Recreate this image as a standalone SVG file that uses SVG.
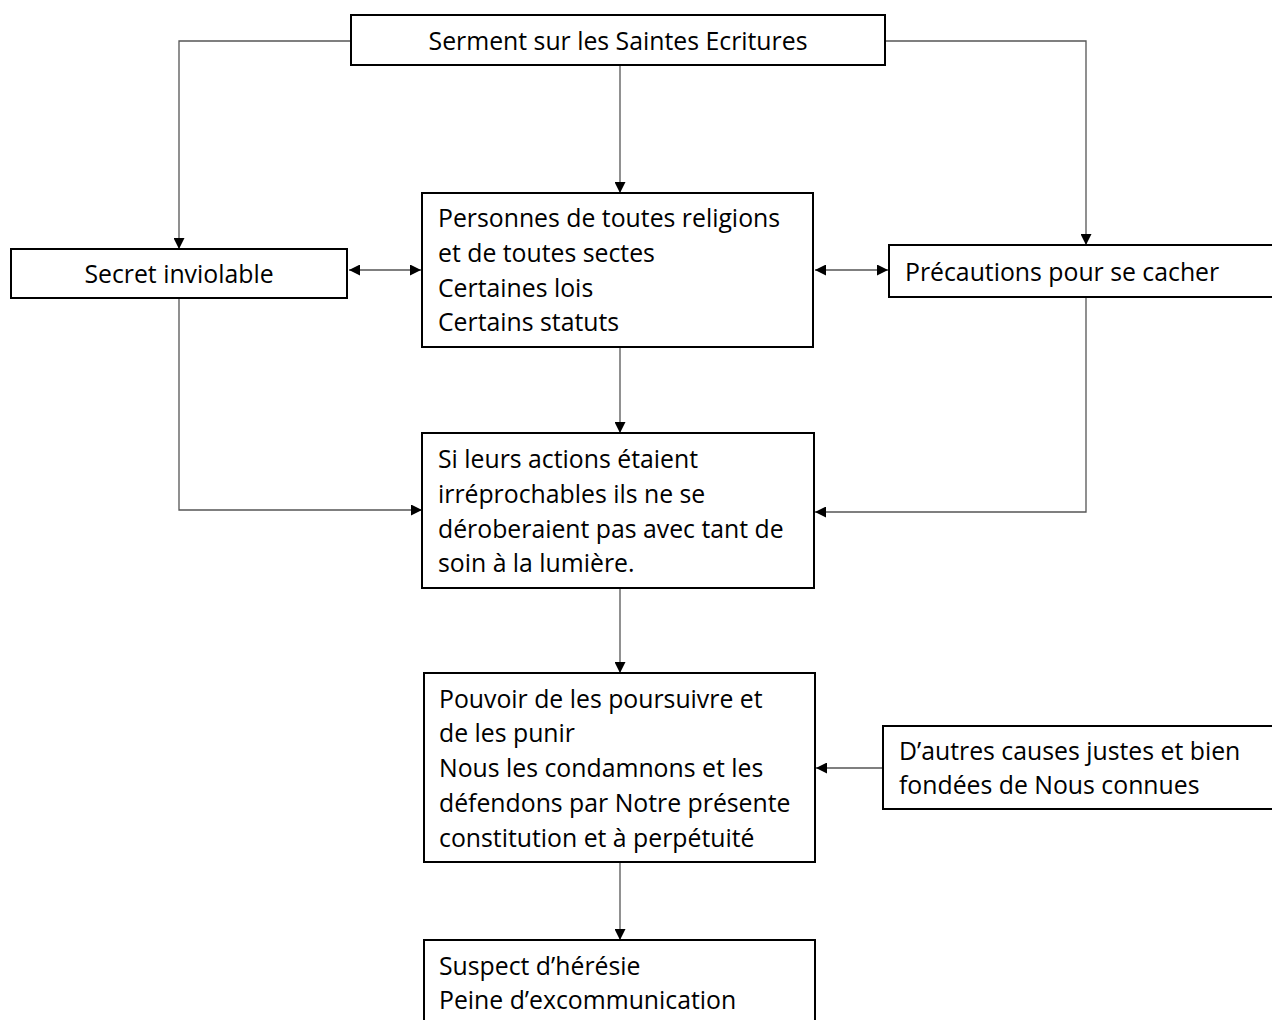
<svg xmlns="http://www.w3.org/2000/svg" width="1272" height="1020" viewBox="0 0 1272 1020">
<defs>
<marker id="ah" viewBox="0 0 10 10" refX="10" refY="5" markerWidth="12" markerHeight="11" markerUnits="userSpaceOnUse" orient="auto-start-reverse">
<path d="M0,0 L10,5 L0,10 z" fill="#000"/>
</marker>
<style>
.box{fill:#fff;stroke:#000;stroke-width:2}
.t{font-family:"Open Sans","Noto Sans",sans-serif;font-size:24.8px;fill:#000}
.c{text-anchor:middle}
.ln{fill:none;stroke:#555;stroke-width:1.3;marker-end:url(#ah)}
.dl{fill:none;stroke:#555;stroke-width:1.3;marker-end:url(#ah);marker-start:url(#ah)}
</style>
</defs>
<rect width="1272" height="1020" fill="#fff"/>
<g id="connectors">
<path class="ln" d="M351,41 H179 V249"/>
<path class="ln" d="M885,41 H1086 V245"/>
<path class="ln" d="M620,65 V193"/>
<path class="dl" d="M349,270 H421"/>
<path class="dl" d="M815,270 H888"/>
<path class="ln" d="M620,347 V433"/>
<path class="ln" d="M179,298 V510 H422"/>
<path class="ln" d="M1086,297 V512 H815"/>
<path class="ln" d="M620,588 V673"/>
<path class="ln" d="M883,768 H816"/>
<path class="ln" d="M620,862 V940"/>
</g>
<g id="n-serment">
<rect class="box" x="351" y="15" width="534" height="50"/>
<text class="t c" x="618" y="50">Serment sur les Saintes Ecritures</text>
</g>
<g id="n-secret">
<rect class="box" x="11" y="249" width="336" height="49"/>
<text class="t c" x="179" y="283">Secret inviolable</text>
</g>
<g id="n-personnes">
<rect class="box" x="422" y="193" width="391" height="154"/>
<text class="t" x="438" y="227">Personnes de toutes religions</text>
<text class="t" x="438" y="262">et de toutes sectes</text>
<text class="t" x="438" y="297">Certaines lois</text>
<text class="t" x="438" y="331">Certains statuts</text>
</g>
<g id="n-precautions">
<rect class="box" x="889" y="245" width="400" height="52"/>
<text class="t" x="905" y="281">Précautions pour se cacher</text>
</g>
<g id="n-si">
<rect class="box" x="422" y="433" width="392" height="155"/>
<text class="t" x="438" y="468">Si leurs actions étaient</text>
<text class="t" x="438" y="503">irréprochables ils ne se</text>
<text class="t" x="438" y="538">déroberaient pas avec tant de</text>
<text class="t" x="438" y="572">soin à la lumière.</text>
</g>
<g id="n-pouvoir">
<rect class="box" x="424" y="673" width="391" height="189"/>
<text class="t" x="439" y="708">Pouvoir de les poursuivre et</text>
<text class="t" x="439" y="742">de les punir</text>
<text class="t" x="439" y="777">Nous les condamnons et les</text>
<text class="t" x="439" y="812">défendons par Notre présente</text>
<text class="t" x="439" y="847">constitution et à perpétuité</text>
</g>
<g id="n-autres">
<rect class="box" x="883" y="726" width="400" height="83"/>
<text class="t" x="899" y="760">D’autres causes justes et bien</text>
<text class="t" x="899" y="794">fondées de Nous connues</text>
</g>
<g id="n-suspect">
<rect class="box" x="424" y="940" width="391" height="100"/>
<text class="t" x="439" y="975">Suspect d’hérésie</text>
<text class="t" x="439" y="1009">Peine d’excommunication</text>
</g>
</svg>
